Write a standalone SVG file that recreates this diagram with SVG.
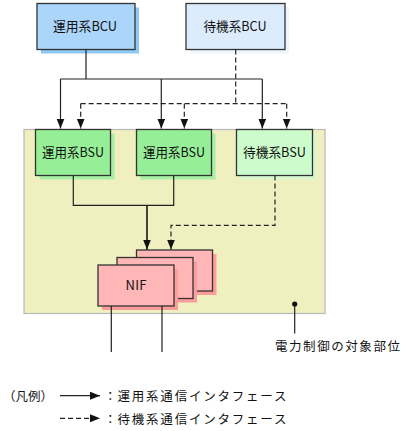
<svg xmlns="http://www.w3.org/2000/svg" width="405" height="431" viewBox="0 0 405 431">
<style>
.box{stroke:#333;stroke-width:1.3}
.t{font-family:"Noto Sans CJK JP","Noto Sans",sans-serif;font-size:13px;fill:#111;text-anchor:middle}
.lg{font-family:"Noto Sans CJK JP","Noto Sans",sans-serif;font-size:12.5px;fill:#111}
.ln{fill:none;stroke:#222;stroke-width:1.2}
.dash{stroke-dasharray:5,3}
</style>
<defs>
<marker id="ah" markerUnits="userSpaceOnUse" markerWidth="10" markerHeight="12" refX="10" refY="4" orient="auto">
<path d="M0,0 L10,4 L0,8 Z" fill="#111"/>
</marker>
</defs>
<rect width="405" height="431" fill="#fff"/>
<g id="area">
<rect x="24" y="129.5" width="301" height="184" fill="#f0efc0" stroke="#b8b8b8" stroke-width="1.2"/>
</g>
<g id="bcu1">
<rect x="41" y="7.5" width="98" height="46" fill="#8ec8f4"/>
<rect class="box" x="37" y="3.5" width="98" height="46" fill="#acd5fb"/>
<text class="t" x="85" y="31" textLength="64" lengthAdjust="spacingAndGlyphs">運用系BCU</text>
</g>
<g id="bcu2">
<rect x="190" y="7.5" width="99" height="46" fill="#eef5fc"/>
<rect class="box" x="186" y="3.5" width="99" height="46" fill="#dcecfc"/>
<text class="t" x="235" y="31" textLength="63" lengthAdjust="spacingAndGlyphs">待機系BCU</text>
</g>
<g id="bsu1">
<rect x="39.5" y="133.5" width="75" height="46" fill="#a6f0a6"/>
<rect class="box" x="35.5" y="129.5" width="75" height="46" fill="#96ef96"/>
<text class="t" x="73" y="157" textLength="62" lengthAdjust="spacingAndGlyphs">運用系BSU</text>
</g>
<g id="bsu2">
<rect x="140.5" y="133.5" width="75" height="46" fill="#a6f0a6"/>
<rect class="box" x="136.5" y="129.5" width="75" height="46" fill="#96ef96"/>
<text class="t" x="174" y="157" textLength="62" lengthAdjust="spacingAndGlyphs">運用系BSU</text>
</g>
<g id="bsu3">
<rect x="240.5" y="133.5" width="76" height="46" fill="#d8f8d0"/>
<rect class="box" x="236.5" y="129.5" width="76" height="46" fill="#ccfccc"/>
<text class="t" x="274.5" y="157" textLength="63" lengthAdjust="spacingAndGlyphs">待機系BSU</text>
</g>
<g id="nif">
<rect x="140.5" y="254" width="76" height="41" fill="#ff9c9c"/>
<rect class="box" x="136.5" y="250" width="76" height="41" fill="#ffb6b6"/>
<rect x="121" y="261.5" width="76" height="41" fill="#ff9c9c"/>
<rect class="box" x="117" y="257.5" width="76" height="41" fill="#ffb6b6"/>
<rect x="102" y="269" width="76" height="41" fill="#ff9c9c"/>
<rect class="box" x="98" y="265" width="76" height="41" fill="#ffb6b6"/>
<text class="t" x="136" y="290" font-size="12" textLength="21" lengthAdjust="spacing">NIF</text>
</g>
<g id="connectors">
<path class="ln" d="M86,49.5 V79 M60.5,79 H262.3"/>
<path class="ln" d="M60.5,79 V128.5" marker-end="url(#ah)"/>
<path class="ln" d="M161.3,79 V128.5" marker-end="url(#ah)"/>
<path class="ln" d="M262.3,79 V128.5" marker-end="url(#ah)"/>
<path class="ln dash" d="M235.7,49.5 V103.7 M80.7,103.7 H286.7"/>
<path class="ln dash" d="M80.7,103.7 V128.5" marker-end="url(#ah)"/>
<path class="ln dash" d="M184.3,103.7 V128.5" marker-end="url(#ah)"/>
<path class="ln dash" d="M286.7,103.7 V128.5" marker-end="url(#ah)"/>
<path class="ln" d="M73.3,175.5 V205.3 H173.7 V175.5 M147,205.3 V249.5" />
<path class="ln" d="M147,205.3 V249.5" marker-end="url(#ah)"/>
<path class="ln dash" d="M275,175.5 V225.3 H171 V249.5" marker-end="url(#ah)"/>
<path class="ln" d="M111.3,306 V352 M162,306 V352"/>
<path class="ln" d="M294.7,304 V333.5"/>
<circle cx="294.7" cy="304" r="2.6" fill="#111"/>
</g>
<g id="labels">
<text class="lg" x="275" y="351" font-size="13" textLength="125" lengthAdjust="spacing">電力制御の対象部位</text>
</g>
<g id="legend">
<text class="lg" x="3" y="401" textLength="50" lengthAdjust="spacingAndGlyphs">（凡例）</text>
<path class="ln" d="M60,395.7 H100" marker-end="url(#ah)"/>
<text class="lg" x="104" y="401">：</text>
<text class="lg" x="117.5" y="401" textLength="169" lengthAdjust="spacing">運用系通信インタフェース</text>
<path class="ln dash" d="M60,418.3 H100" marker-end="url(#ah)"/>
<text class="lg" x="104" y="423.5">：</text>
<text class="lg" x="117.5" y="423.5" textLength="169" lengthAdjust="spacing">待機系通信インタフェース</text>
</g>
</svg>
